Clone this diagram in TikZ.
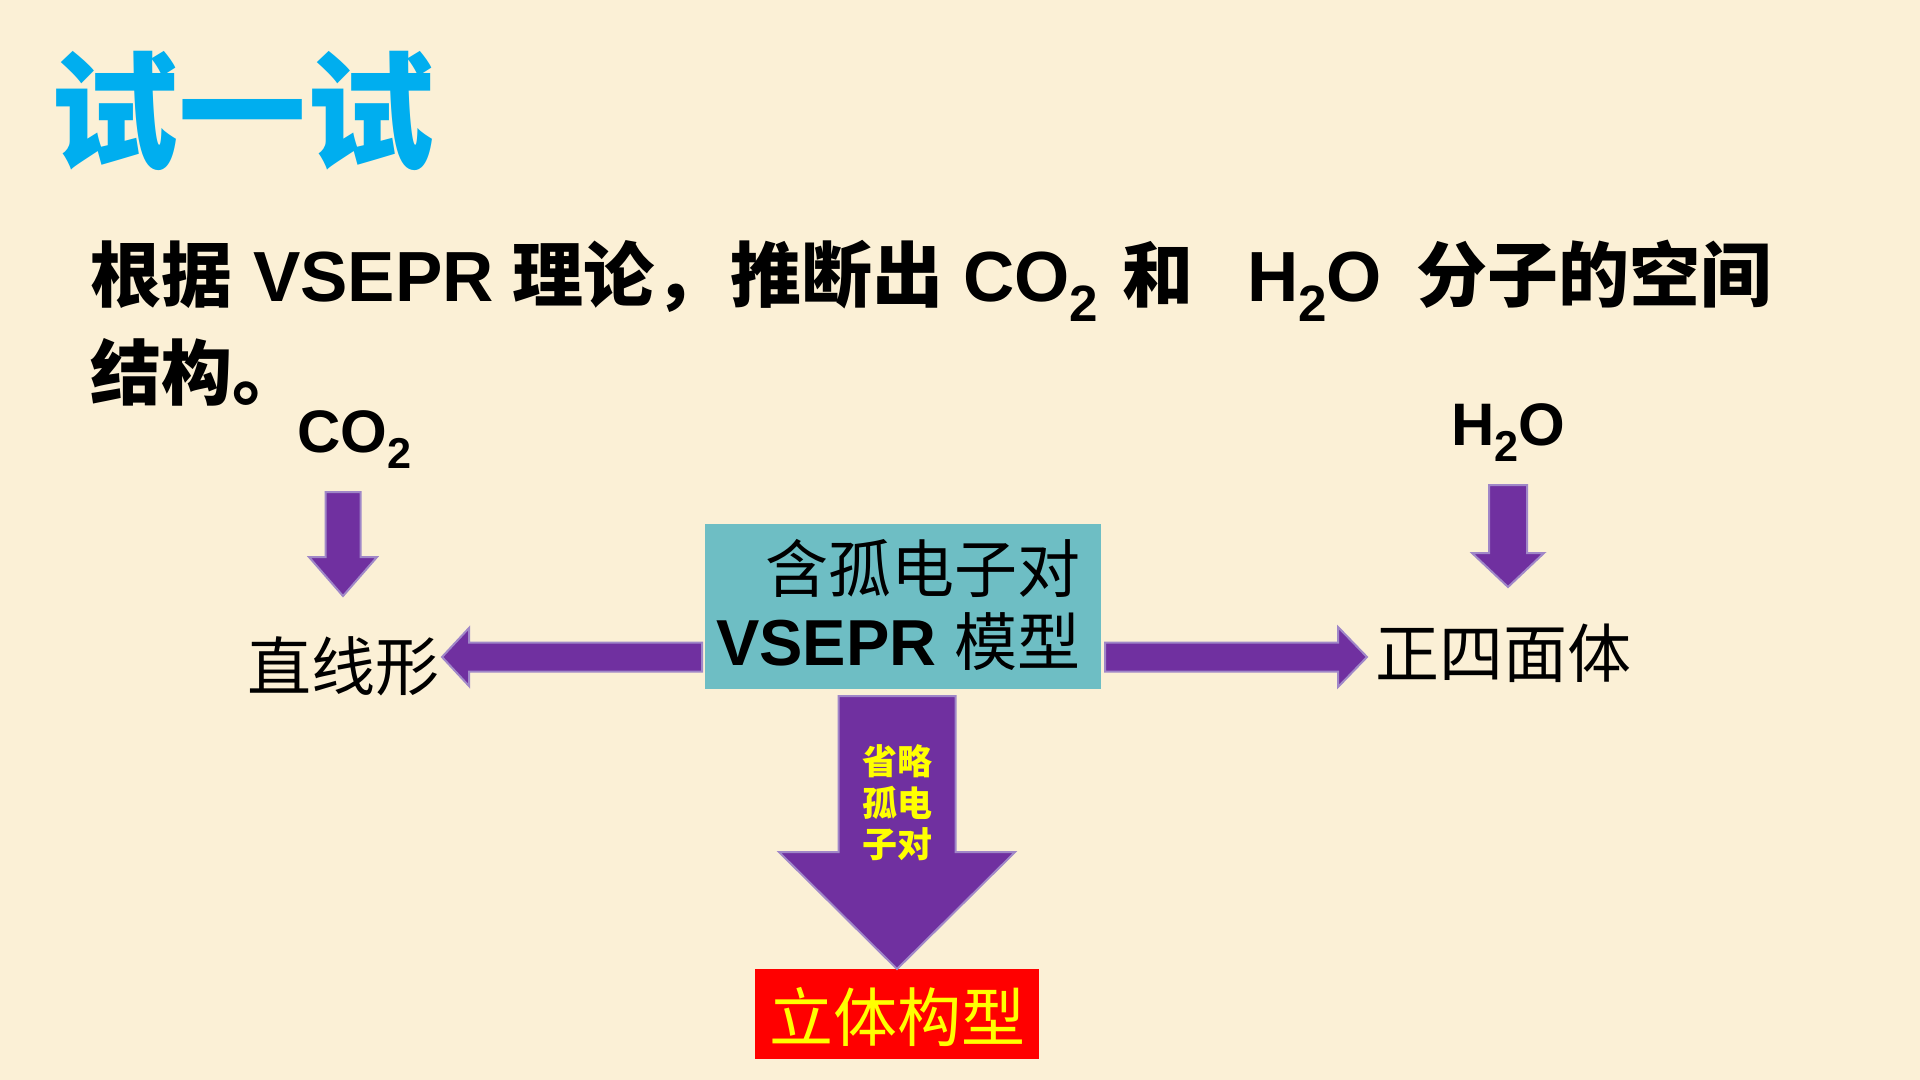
\documentclass[tikz,border=0pt]{standalone}
\usepackage{fontspec}
\usepackage{graphicx}
\setmainfont{Liberation Sans}
\newfontfamily\cjk{Noto Sans CJK SC}
\usetikzlibrary{calc}
\definecolor{bgc}{RGB}{251,240,214}
\definecolor{arrowfill}{RGB}{112,48,160}
\definecolor{arrowedge}{RGB}{160,135,200}
\definecolor{tealc}{RGB}{110,190,196}
\definecolor{titlec}{RGB}{0,174,239}
\definecolor{redc}{RGB}{255,0,0}
\definecolor{yellowc}{RGB}{255,255,0}
\newcommand\chemsub[1]{\raisebox{-0.27em}{\scalebox{0.72}{#1}}}
% horizontal block arrow: start, tip, half shaft, head length (signed), half head
\newcommand\harrow[5]{%
  \filldraw[blockarr] ($(#1)+(0,-#3)$) -- ($(#2)+(#4,-#3)$) -- ($(#2)+(#4,-#5)$) -- (#2)
    -- ($(#2)+(#4,#5)$) -- ($(#2)+(#4,#3)$) -- ($(#1)+(0,#3)$) -- cycle;}
% vertical block arrow
\newcommand\varrow[5]{%
  \filldraw[blockarr] ($(#1)+(-#3,0)$) -- ($(#2)+(-#3,#4)$) -- ($(#2)+(-#5,#4)$) -- (#2)
    -- ($(#2)+(#5,#4)$) -- ($(#2)+(#3,#4)$) -- ($(#1)+(#3,0)$) -- cycle;}
\begin{document}
\begin{tikzpicture}[x=0.5pt,y=-0.5pt,
  every node/.style={inner sep=0pt, outer sep=0pt},
  blockarr/.style={fill=arrowfill, draw=arrowedge, line width=1pt, line join=miter},
  t1/.style={font=\fontsize{35.5pt}{40pt}\selectfont\bfseries, anchor=base west},
  mol/.style={font=\fontsize{30pt}{34pt}\selectfont\bfseries, anchor=base west},
  shapetxt/.style={font=\fontsize{32pt}{36pt}\selectfont\cjk},
  boxtxt/.style={font=\fontsize{31.5pt}{36pt}\selectfont, anchor=base east},
  smalltxt/.style={font=\fontsize{17.5pt}{20pt}\selectfont\cjk\bfseries, text=yellowc},
]
\useasboundingbox (0,0) rectangle (1920,1080);
\fill[bgc] (0,0) rectangle (1920,1080);

% title
\node[font=\fontsize{64pt}{70pt}\selectfont\cjk\bfseries, text=titlec] (title) at (242,111) {试一试};

% question text
\node[t1] (l1a) at (90,302) {\cjk 根据};
\node[t1] (l1b) at (253,302) {VSEPR};
\node[t1] (l1c) at (512,302) {\cjk 理论，};
\node[t1] (l1d) at (730,302) {\cjk 推断出};
\node[t1] (l1e) at (963,302) {CO\chemsub{2}};
\node[t1] (l1f) at (1122,302) {\cjk 和};
\node[t1] (l1g) at (1247,302) {H\chemsub{2}O};
\node[t1] (l1h) at (1416,302) {\cjk 分子的空间};
\node[t1] (l2) at (90,400) {\cjk 结构。};

% molecule labels
\node[mol] (co2) at (297,452) {CO\chemsub{2}};
\node[mol] (h2o) at (1451,445) {H\chemsub{2}O};

% shape results
\node[shapetxt] (zx) at (343,666) {直线形};
\node[shapetxt] (zs) at (1503,653) {正四面体};

% central box
\node[fill=tealc, minimum width=198pt, minimum height=82.5pt] (box) at (903,606.5) {};
\node[boxtxt] (bt1) at (1080,592) {\cjk 含孤电子对};
\node[boxtxt] (bt2) at (1080,665) {{\fontsize{32.5pt}{36pt}\selectfont\bfseries VSEPR} {\cjk 模型}};

% red result box
\node[fill=redc, minimum width=142pt, minimum height=45pt] (res) at (897,1014) {};
\node[font=\fontsize{32pt}{36pt}\selectfont\cjk, text=yellowc] (rest) at (897,1017) {立体构型};

% arrow end points
\coordinate (a1s) at (343,492);
\coordinate (a1e) at (343,596);
\coordinate (a2s) at (1508,485);
\coordinate (a2e) at (1508,587);
\coordinate (a3s) at (702,657);
\coordinate (a3e) at (442,657);
\coordinate (a4s) at (1105,657);
\coordinate (a4e) at (1367,657);
\coordinate (a5s) at (897,696);

\varrow{a1s}{a1e}{17.5}{-39}{34}
\varrow{a2s}{a2e}{19}{-34}{36}
\harrow{a3s}{a3e}{14.5}{27}{29}
\harrow{a4s}{a4e}{14.5}{-29}{30}
\varrow{a5s}{res.north}{58.5}{-117}{118}

% text inside big arrow
\node[smalltxt] (s1) at (897,761) {省略};
\node[smalltxt] (s2) at (897,803) {孤电};
\node[smalltxt] (s3) at (897,844) {子对};
\end{tikzpicture}
\end{document}
